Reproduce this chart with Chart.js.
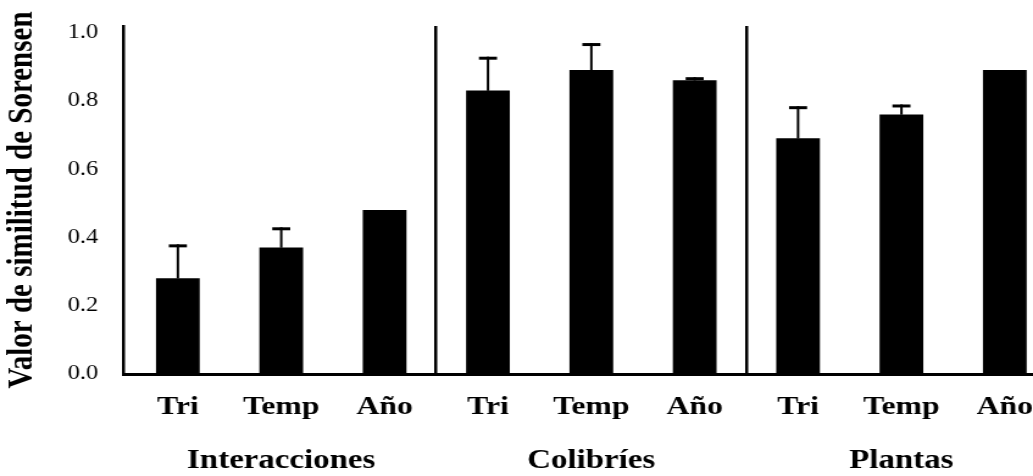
<!DOCTYPE html>
<html lang="es">
<head>
<meta charset="utf-8">
<title>Valor de similitud de Sorensen</title>
<script src="https://cdn.jsdelivr.net/npm/chart.js@4/dist/chart.umd.min.js"></script>
<style>
  html, body { margin: 0; padding: 0; background: #fff; overflow: hidden; }
  /* the figure is drawn narrow and widened horizontally */
  #wrap { width: 847px; height: 476px; transform: scaleX(1.2196); transform-origin: 0 0; }
</style>
</head>
<body>
<div id="wrap"><canvas id="c"></canvas></div>
<script>
// Sub-periods within each group, in drawing order
const categories = ['Tri', 'Temp', 'Año', 'Tri', 'Temp', 'Año', 'Tri', 'Temp', 'Año'];
// Groups of three bars each
const groups = ['Interacciones', 'Colibríes', 'Plantas'];
// Sorensen similarity per bar
const similitud = [0.28, 0.37, 0.48, 0.83, 0.89, 0.86, 0.69, 0.76, 0.89];
// Upper error (null = no error bar drawn)
const errorSup = [0.10, 0.06, null, 0.10, 0.08, 0.01, 0.095, 0.03, null];
// Y-axis tick values
const yTicks = [0.0, 0.2, 0.4, 0.6, 0.8, 1.0];

const perGroup = categories.length / groups.length;
const groupCentres = groups.map((g, k) => k * perGroup + (perGroup - 1) / 2);
const groupBounds = groups.slice(1).map((g, k) => (k + 1) * perGroup - 0.5);

const SERIF = "'Liberation Serif', 'Times New Roman', 'DejaVu Serif', serif";
const X_MIN = -0.522, X_MAX = 8.273;

// Upper-only error bars, positioned through the chart scales
const errorBars = {
  id: 'errorBars',
  afterDatasetsDraw(chart) {
    const { ctx, scales: { x, y } } = chart;
    ctx.save();
    ctx.strokeStyle = '#000';
    ctx.lineCap = 'butt';
    errorSup.forEach((e, i) => {
      if (e == null) return;
      const px = x.getPixelForValue(i);
      const yBar = y.getPixelForValue(similitud[i]);
      const yTop = y.getPixelForValue(similitud[i] + e);
      ctx.lineWidth = 2;
      ctx.beginPath();
      ctx.moveTo(px, yBar);
      ctx.lineTo(px, yTop);
      ctx.stroke();
      ctx.lineWidth = 3;
      ctx.beginPath();
      ctx.moveTo(px - 7.4, yTop + 1.5);
      ctx.lineTo(px + 7.4, yTop + 1.5);
      ctx.stroke();
    });
    ctx.restore();
  }
};

new Chart(document.getElementById('c'), {
  type: 'bar',
  data: {
    datasets: [{
      data: similitud.map((v, i) => ({ x: i, y: v })),
      backgroundColor: '#000',
      borderWidth: 0,
      barThickness: 35.2
    }]
  },
  options: {
    responsive: true,
    maintainAspectRatio: false,
    animation: false,
    layout: { padding: { top: 26, left: 0, right: 0, bottom: 0 } },
    plugins: { legend: { display: false }, tooltip: { enabled: false } },
    scales: {
      x: {
        type: 'linear',
        position: 'bottom',
        offset: false,
        min: X_MIN,
        max: X_MAX,
        afterBuildTicks: (s) => {
          s.ticks = categories.map((c, i) => ({ value: i }))
            .concat(groupBounds.map(v => ({ value: v })))
            .sort((a, b) => a.value - b.value);
        },
        afterFit: (s) => { s.height = 56; s.paddingLeft = 0; s.paddingRight = 0; },
        ticks: {
          autoSkip: false,
          maxRotation: 0,
          padding: 18,
          color: '#000',
          font: { family: SERIF, size: 26, weight: 'bold' },
          callback: (v) => Number.isInteger(v) ? categories[v] : ''
        },
        grid: {
          offset: false,
          drawTicks: false,
          lineWidth: 2.5,
          color: (c) => (c.tick && !Number.isInteger(c.tick.value)) ? '#000' : 'rgba(0,0,0,0)'
        },
        border: { display: true, color: '#000', width: 3 }
      },
      x2: {
        type: 'linear',
        position: 'bottom',
        offset: false,
        min: X_MIN,
        max: X_MAX,
        afterBuildTicks: (s) => { s.ticks = groupCentres.map(v => ({ value: v })); },
        afterFit: (s) => { s.height = 46; s.paddingLeft = 0; s.paddingRight = 0; },
        ticks: {
          autoSkip: false,
          maxRotation: 0,
          padding: 15,
          color: '#000',
          font: { family: SERIF, size: 27, weight: 'bold' },
          callback: (v) => groups[groupCentres.indexOf(v)] || ''
        },
        grid: { display: false, offset: false, drawTicks: false },
        border: { display: false }
      },
      y: {
        min: 0,
        max: 1.02,
        afterBuildTicks: (s) => { s.ticks = yTicks.map(v => ({ value: v })); },
        afterFit: (s) => { s.width = 101.6; s.paddingTop = 0; s.paddingBottom = 0; },
        ticks: {
          padding: 21,
          color: '#000',
          font: { family: SERIF, size: 20 },
          callback: (v) => Number(v).toFixed(1)
        },
        grid: { display: false, drawTicks: false },
        border: { display: true, color: '#000', width: 2.5 },
        title: {
          display: true,
          text: 'Valor de similitud de Sorensen',
          color: '#000',
          padding: { top: 1, bottom: 0 },
          font: { family: SERIF, size: 29, weight: 'bold' }
        }
      }
    }
  },
  plugins: [errorBars]
});
</script>
</body>
</html>
